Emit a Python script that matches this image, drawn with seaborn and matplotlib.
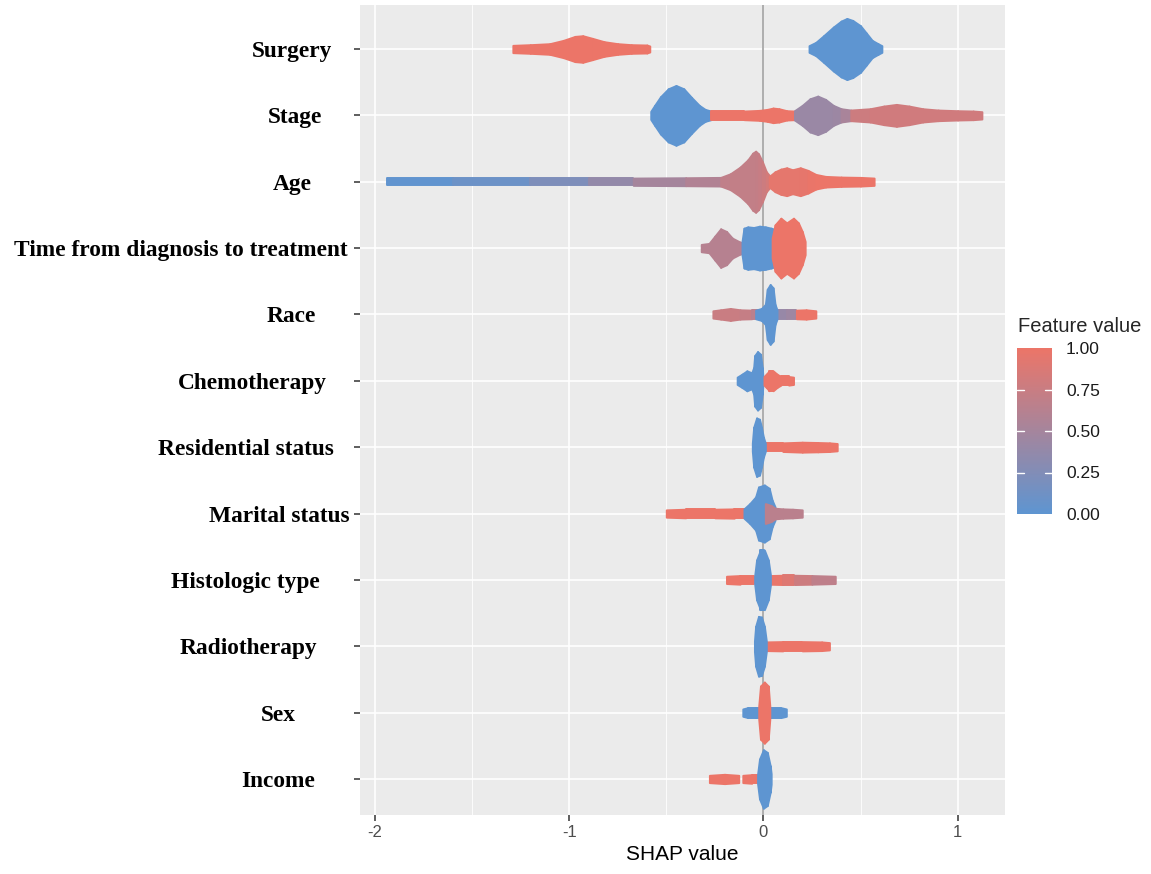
import matplotlib
matplotlib.use("Agg")
import matplotlib.pyplot as plt
import matplotlib.transforms as mtransforms
from matplotlib.colors import LinearSegmentedColormap, Normalize
from matplotlib.colorbar import ColorbarBase
import seaborn as sns

# features, top to bottom
features = ["Surgery", "Stage", "Age", "Time from diagnosis to treatment", "Race",
            "Chemotherapy", "Residential status", "Marital status", "Histologic type",
            "Radiotherapy", "Sex", "Income"]
# right edge of every y label in pixels (layout only)
label_right_px = [332, 322, 312, 348, 316, 327, 334, 350, 320, 317, 296, 315]

# swarm outlines
# each piece: (shap value, half height of the swarm in rows, feature value)
surgery = [
    [(-1.29, 0.055, 1), (-1.2, 0.065, 1), (-1.1, 0.08, 1), (-1.03, 0.13, 1), (-0.97, 0.19, 1),
     (-0.93, 0.2, 1), (-0.88, 0.16, 1), (-0.82, 0.11, 1), (-0.75, 0.08, 1), (-0.68, 0.065, 1),
     (-0.6, 0.06, 1), (-0.585, 0.045, 1)],
    [(0.235, 0.05, 0), (0.27, 0.1, 0), (0.31, 0.2, 0), (0.36, 0.33, 0), (0.40, 0.42, 0),
     (0.43, 0.46, 0), (0.46, 0.43, 0), (0.50, 0.35, 0), (0.53, 0.24, 0), (0.56, 0.13, 0),
     (0.59, 0.08, 0), (0.61, 0.05, 0)],
]
stage = [
    [(-0.58, 0.06, 0), (-0.56, 0.15, 0), (-0.53, 0.28, 0), (-0.49, 0.40, 0), (-0.45, 0.45, 0),
     (-0.41, 0.40, 0), (-0.37, 0.27, 0), (-0.33, 0.15, 0), (-0.30, 0.09, 0), (-0.27, 0.065, 0)],
    [(-0.27, 0.065, 1), (-0.1, 0.065, 1), (-0.02, 0.075, 1), (0.02, 0.09, 1), (0.05, 0.11, 1),
     (0.08, 0.10, 1), (0.12, 0.07, 1), (0.16, 0.065, 1)],
    [(0.16, 0.07, 0.42), (0.2, 0.15, 0.42), (0.24, 0.25, 0.42), (0.28, 0.29, 0.42),
     (0.32, 0.24, 0.42), (0.36, 0.15, 0.42), (0.40, 0.1, 0.45), (0.45, 0.08, 0.6)],
    [(0.45, 0.08, 0.75), (0.55, 0.1, 0.8), (0.62, 0.14, 0.8), (0.685, 0.165, 0.8), (0.75, 0.14, 0.8),
     (0.82, 0.1, 0.8), (0.9, 0.08, 0.8), (1.0, 0.07, 0.8), (1.08, 0.065, 0.8), (1.125, 0.055, 0.8)],
]
age = [
    [(-1.94, 0.055, 0.0), (-1.6, 0.055, 0.05), (-1.2, 0.055, 0.15), (-0.9, 0.055, 0.3),
     (-0.67, 0.055, 0.45), (-0.4, 0.06, 0.55), (-0.22, 0.065, 0.62)],
    [(-0.22, 0.065, 0.68), (-0.17, 0.12, 0.7), (-0.12, 0.22, 0.7), (-0.08, 0.33, 0.7),
     (-0.055, 0.43, 0.7), (-0.04, 0.46, 0.7), (-0.025, 0.42, 0.72), (-0.005, 0.3, 0.75),
     (0.015, 0.15, 0.8), (0.035, 0.08, 0.85)],
    [(0.03, 0.08, 0.95), (0.06, 0.15, 0.95), (0.09, 0.19, 0.95), (0.12, 0.21, 0.95),
     (0.15, 0.18, 0.95), (0.19, 0.21, 0.95), (0.23, 0.17, 0.97), (0.27, 0.11, 1),
     (0.32, 0.08, 1), (0.4, 0.07, 1), (0.5, 0.065, 1), (0.57, 0.055, 1)],
]
time_dx = [
    [(-0.32, 0.055, 0.62), (-0.28, 0.07, 0.62), (-0.25, 0.18, 0.62), (-0.22, 0.29, 0.62),
     (-0.19, 0.25, 0.62), (-0.16, 0.15, 0.62), (-0.12, 0.09, 0.62), (-0.105, 0.08, 0.62)],
    [(-0.11, 0.1, 0), (-0.1, 0.3, 0), (-0.08, 0.32, 0), (-0.05, 0.31, 0), (-0.02, 0.33, 0),
     (0.01, 0.32, 0), (0.04, 0.3, 0), (0.06, 0.28, 0), (0.075, 0.1, 0)],
    [(0.045, 0.15, 1), (0.06, 0.35, 1), (0.09, 0.45, 1), (0.12, 0.38, 1), (0.155, 0.45, 1),
     (0.18, 0.38, 1), (0.2, 0.25, 1), (0.215, 0.1, 1)],
]
race = [
    [(-0.26, 0.055, 0.75), (-0.22, 0.07, 0.75), (-0.17, 0.09, 0.75), (-0.12, 0.07, 0.75),
     (-0.06, 0.065, 0.7), (-0.03, 0.065, 0.6)],
    [(0.07, 0.065, 0.4), (0.12, 0.065, 0.4), (0.17, 0.065, 0.5)],
    [(0.17, 0.065, 1), (0.22, 0.07, 1), (0.27, 0.055, 1)],
    [(-0.04, 0.065, 0), (-0.01, 0.09, 0), (0.01, 0.15, 0), (0.02, 0.38, 0), (0.035, 0.45, 0),
     (0.05, 0.4, 0), (0.06, 0.15, 0), (0.07, 0.07, 0)],
]
chemotherapy = [
    [(-0.135, 0.055, 0), (-0.11, 0.1, 0), (-0.085, 0.15, 0), (-0.06, 0.12, 0), (-0.05, 0.2, 0),
     (-0.045, 0.38, 0), (-0.03, 0.44, 0), (-0.015, 0.4, 0), (-0.006, 0.2, 0), (-0.003, 0.08, 0)],
    [(0.003, 0.065, 1), (0.015, 0.1, 1), (0.03, 0.15, 1), (0.05, 0.15, 1), (0.07, 0.1, 1),
     (0.09, 0.065, 1), (0.13, 0.065, 1), (0.155, 0.055, 1)],
]
residential = [
    [(0.01, 0.065, 1), (0.1, 0.065, 1), (0.2, 0.075, 1), (0.28, 0.07, 1), (0.34, 0.065, 1),
     (0.38, 0.055, 1)],
    [(-0.057, 0.06, 0), (-0.05, 0.3, 0), (-0.035, 0.44, 0), (-0.02, 0.42, 0), (-0.01, 0.3, 0),
     (0.0, 0.15, 0), (0.01, 0.06, 0)],
]
marital = [
    [(-0.5, 0.055, 1), (-0.4, 0.065, 1), (-0.25, 0.065, 1), (-0.15, 0.07, 1), (-0.09, 0.07, 1)],
    [(-0.1, 0.07, 0), (-0.07, 0.15, 0), (-0.04, 0.25, 0), (-0.025, 0.4, 0), (0.005, 0.43, 0),
     (0.03, 0.38, 0), (0.045, 0.2, 0), (0.06, 0.1, 0)],
    [(0.01, 0.15, 0.65), (0.04, 0.12, 0.65), (0.06, 0.08, 0.65), (0.1, 0.07, 0.65),
     (0.15, 0.065, 0.65), (0.2, 0.055, 0.65)],
]
histologic = [
    [(-0.19, 0.055, 1), (-0.12, 0.065, 1), (-0.05, 0.065, 1)],
    [(0.03, 0.065, 1.0), (0.1, 0.07, 0.95), (0.16, 0.07, 0.85), (0.25, 0.065, 0.7), (0.37, 0.055, 0.65)],
    [(-0.045, 0.06, 0), (-0.035, 0.3, 0), (-0.015, 0.45, 0), (0.005, 0.45, 0), (0.025, 0.3, 0),
     (0.036, 0.08, 0)],
]
radiotherapy = [
    [(0.01, 0.065, 1), (0.1, 0.07, 1), (0.2, 0.07, 1), (0.3, 0.065, 1), (0.34, 0.055, 1)],
    [(-0.046, 0.08, 0), (-0.04, 0.3, 0), (-0.025, 0.45, 0), (-0.01, 0.44, 0), (0.005, 0.3, 0),
     (0.015, 0.08, 0)],
]
sex = [
    [(-0.106, 0.055, 0), (-0.08, 0.075, 0), (-0.04, 0.075, 0), (0.04, 0.075, 0), (0.09, 0.075, 0),
     (0.118, 0.055, 0)],
    [(-0.024, 0.1, 1), (-0.015, 0.4, 1), (0.005, 0.46, 1), (0.025, 0.4, 1), (0.033, 0.1, 1)],
]
income = [
    [(-0.278, 0.055, 1), (-0.2, 0.07, 1), (-0.127, 0.055, 1)],
    [(-0.106, 0.055, 1), (-0.06, 0.065, 1), (-0.024, 0.065, 1)],
    [(-0.03, 0.07, 0), (-0.02, 0.3, 0), (0.0, 0.44, 0), (0.02, 0.4, 0), (0.035, 0.2, 0), (0.04, 0.08, 0)],
]
swarms = [surgery, stage, age, time_dx, race, chemotherapy, residential, marital,
          histologic, radiotherapy, sex, income]

cbar_ticks = [0.0, 0.25, 0.5, 0.75, 1.0]

sns.set_theme(style="darkgrid", rc={"axes.facecolor": "#EBEBEB"})
plt.rcParams['font.family'] = ['Liberation Sans', 'DejaVu Sans']
plt.rcParams['axes.unicode_minus'] = False

cmap = LinearSegmentedColormap.from_list("shap", ["#5E95D1", "#EC7568"])

fig = plt.figure(figsize=(11.51, 8.74), dpi=100)
ax = fig.add_axes([360 / 1151, 59 / 874, 645 / 1151, 810 / 874])

for row, pieces in enumerate(swarms):
    for piece in pieces:
        for (x0, h0, c0), (x1, h1, c1) in zip(piece[:-1], piece[1:]):
            col = cmap((c0 + c1) / 2)
            ax.fill_between([x0, x1], [row - h0, row - h1], [row + h0, row + h1],
                            facecolor=col, edgecolor=col, linewidth=1.4,
                            joinstyle='round', zorder=3)

ax.axvline(0, color='#A0A0A0', lw=1.2, zorder=2)

ax.set_xlim(-2.077, 1.244)
ax.set_ylim(11.543, -0.663)
ax.set_xticks([-2, -1, 0, 1])
ax.set_xticks([-1.5, -0.5, 0.5], minor=True)
ax.set_yticks(range(len(features)))
ax.set_yticklabels([])
ax.grid(which='major', color='white', lw=1.2)
ax.grid(which='minor', axis='x', color='white', lw=0.6)
for s in ax.spines.values():
    s.set_visible(False)
ax.tick_params(which='major', length=4, width=1.1, color='#333333', bottom=True, left=True,
               labelsize=12, labelcolor='#4D4D4D', pad=3)
ax.tick_params(which='minor', length=0)
ax.set_xlabel('SHAP value', fontsize=15, color='black', labelpad=4)

trans = mtransforms.blended_transform_factory(fig.transFigure, ax.transData)
for row, (name, rx) in enumerate(zip(features, label_right_px)):
    ax.text(rx / 1151, row, name, transform=trans, ha='right', va='center_baseline',
            fontsize=16.8, fontweight='bold', family=['Liberation Serif', 'DejaVu Serif'],
            color='black')

# colour bar legend
cax = fig.add_axes([1017 / 1151, (874 - 514) / 874, 35 / 1151, 166 / 874])
cb = ColorbarBase(cax, cmap=cmap, norm=Normalize(0, 1), orientation='vertical')
cb.outline.set_visible(False)
cb.set_ticks(cbar_ticks)
cb.set_ticklabels([f"{t:.2f}" for t in cbar_ticks])
cax.tick_params(length=0, labelsize=12.5, pad=10, labelcolor='#1A1A1A')
for t in cbar_ticks[1:-1]:
    cax.axhline(t, 0, 0.2, color='white', lw=1)
    cax.axhline(t, 0.8, 1, color='white', lw=1)
fig.text(1018 / 1151, 1 - 326 / 874, 'Feature value', fontsize=14.5, va='center', ha='left')

fig.savefig('out.png', dpi=100)
